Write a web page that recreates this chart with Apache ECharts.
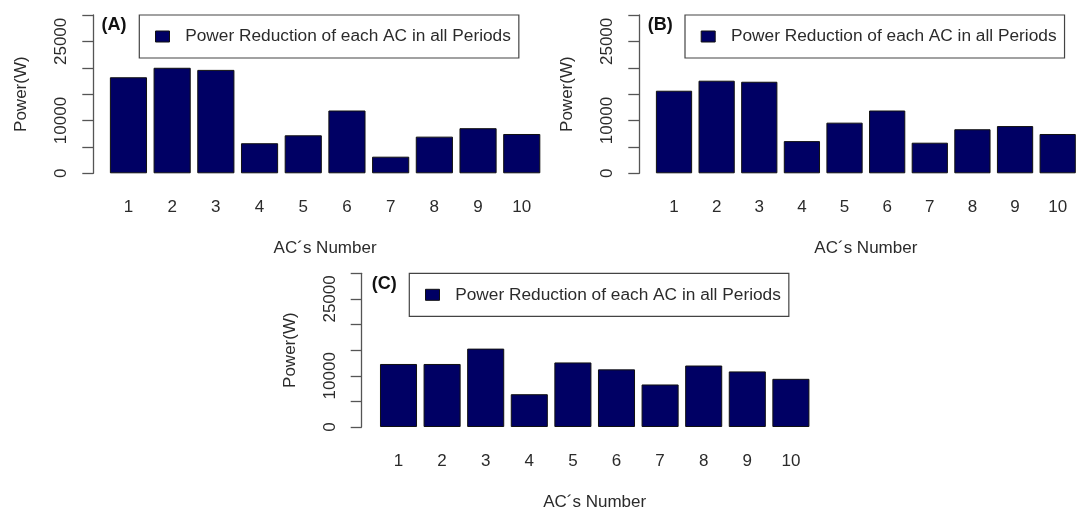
<!DOCTYPE html>
<html>
<head>
<meta charset="utf-8">
<script src="https://cdn.jsdelivr.net/npm/echarts@6/dist/echarts.min.js"></script>
<style>
  html, body { margin: 0; padding: 0; background: #ffffff; }
  #chart { width: 1079px; height: 512px; }
</style>
</head>
<body>
<div id="chart"></div>
<script>
// ---- data ----
const categories = ['1', '2', '3', '4', '5', '6', '7', '8', '9', '10'];
const panelA = [18200, 20000, 19600, 5700, 7200, 11900, 3150, 6950, 8550, 7450];
const panelB = [15650, 17550, 17350, 6100, 9600, 11900, 5800, 8350, 8950, 7450];
const panelC = [12300, 12300, 15300, 6400, 12600, 11250, 8300, 12000, 10850, 9400];
const yTickLabels = [0, 10000, 25000];
const seriesName = 'Power Reduction of each AC in all Periods';
const panelLabels = ['(A)', '(B)', '(C)'];
const xAxisName = 'AC\u00b4s Number';
const yAxisName = 'Power(W)';

// ---- layout ----
const FONT = "'Liberation Sans', Arial, sans-serif";
const panels = [
  { data: panelA, label: panelLabels[0], grid: { left: 106.6, top: 15, width: 437, height: 158.3 }, offset: 13.3, legend: { left: 139.3, top: 15 }, title: { left: 101.5, top: 16 } },
  { data: panelB, label: panelLabels[1], grid: { left: 652.7, top: 15, width: 435, height: 158.3 }, offset: 13.4, legend: { left: 685, top: 15 }, title: { left: 647.7, top: 16 } },
  { data: panelC, label: panelLabels[2], grid: { left: 376.7, top: 273.3, width: 436, height: 158.2 }, offset: 15, legend: { left: 409.3, top: 273.3 }, title: { left: 371.7, top: 275 } }
];

const textColor = '#2b2b2b';
const axisColor = '#555';
const barColor = '#000064';

const option = {
  backgroundColor: '#ffffff',
  animation: false,
  textStyle: { fontFamily: FONT },
  title: panels.map(p => ({
    text: p.label, left: p.title.left, top: p.title.top, padding: 0,
    textStyle: { fontFamily: FONT, fontSize: 18, fontWeight: 'bold', color: '#111' }
  })),
  legend: panels.map(p => ({
    data: [seriesName],
    left: p.legend.left, top: p.legend.top,
    orient: 'horizontal',
    padding: [13, 8, 13, 15.7],
    borderColor: '#444', borderWidth: 1.2, borderRadius: 0,
    backgroundColor: '#fff',
    itemWidth: 14, itemHeight: 11,
    icon: 'rect',
    itemStyle: { color: barColor, borderColor: '#111', borderWidth: 1 },
    textStyle: { fontFamily: FONT, fontSize: 17.3, color: textColor, lineHeight: 17, padding: [0, 0, 0, 10.7] },
    selectedMode: false
  })),
  grid: panels.map(p => Object.assign({ containLabel: false }, p.grid)),
  xAxis: panels.map((p, i) => ({
    type: 'category', gridIndex: i, data: categories,
    axisLine: { show: false }, axisTick: { show: false },
    axisLabel: { fontFamily: FONT, fontSize: 17, color: textColor, margin: 26 },
    name: xAxisName, nameLocation: 'middle', nameGap: 67,
    nameTextStyle: { fontFamily: FONT, fontSize: 17, color: textColor }
  })),
  yAxis: panels.map((p, i) => ({
    type: 'value', gridIndex: i, min: 0, max: 30000, interval: 5000,
    offset: p.offset,
    splitLine: { show: false },
    axisLine: { show: true, lineStyle: { color: axisColor, width: 1.3 } },
    axisTick: { show: true, length: 11, lineStyle: { color: axisColor, width: 1.3 } },
    axisLabel: {
      rotate: 90, margin: 23, fontFamily: FONT, fontSize: 17, color: textColor,
      formatter: v => (yTickLabels.indexOf(v) >= 0 ? String(v) : '')
    },
    name: yAxisName, nameLocation: 'middle', nameRotate: 90, nameGap: 63,
    nameTextStyle: { fontFamily: FONT, fontSize: 17, color: textColor }
  })),
  series: panels.map((p, i) => ({
    type: 'bar', name: seriesName, xAxisIndex: i, yAxisIndex: i,
    data: p.data, barCategoryGap: '15%',
    itemStyle: { color: barColor, borderColor: '#111', borderWidth: 1 }
  }))
};

const chart = echarts.init(document.getElementById('chart'), null, { renderer: 'canvas' });
chart.setOption(option);
</script>
</body>
</html>
